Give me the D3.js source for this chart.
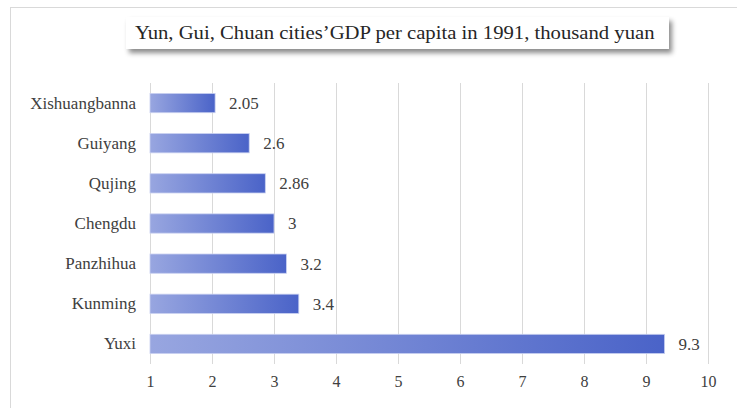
<!DOCTYPE html>
<html>
<head>
<meta charset="utf-8">
<script src="https://cdn.jsdelivr.net/npm/d3@7"></script>
</head>
<body style="margin:0; background:#fff">
<div id="chart"></div>
<script>
// data
const cities = ["Xishuangbanna", "Guiyang", "Qujing", "Chengdu", "Panzhihua", "Kunming", "Yuxi"];
const gdp = [2.05, 2.6, 2.86, 3, 3.2, 3.4, 9.3];
const ticks = [1, 2, 3, 4, 5, 6, 7, 8, 9, 10];
const title = "Yun, Gui, Chuan cities\u2019GDP per capita in 1991, thousand yuan";

const width = 737, height = 408;
const serif = "Liberation Serif";

const svg = d3.select("#chart")
  .append("svg")
    .attr("width", width)
    .attr("height", height)
    .style("display", "block")
    .attr("font-family", serif);

const defs = svg.append("defs");

// horizontal gradient, light on the left, dark on the right of each bar
const grad = defs.append("linearGradient")
  .attr("id", "barGrad")
  .attr("x1", "0%").attr("x2", "100%")
  .attr("y1", "0%").attr("y2", "0%");
grad.append("stop").attr("offset", "0%").attr("stop-color", "#98a6e0");
grad.append("stop").attr("offset", "100%").attr("stop-color", "#4a63c8");

const shadow = defs.append("filter")
  .attr("id", "shadow")
  .attr("x", "-10%").attr("y", "-30%")
  .attr("width", "120%").attr("height", "180%");
shadow.append("feDropShadow")
  .attr("dx", 3).attr("dy", 4)
  .attr("stdDeviation", 2.5)
  .attr("flood-color", "#000")
  .attr("flood-opacity", 0.45);

// chart frame
svg.append("rect")
  .attr("x", 10.5).attr("y", 7.5)
  .attr("width", width + 10).attr("height", height + 10)
  .attr("fill", "#fff")
  .attr("stroke", "#d9d9d9");

const x = d3.scaleLinear().domain([1, 10]).range([150, 708]);
const y = d3.scaleBand().domain(cities).range([83, 364])
  .paddingInner(0.52).paddingOuter(0.26);

// gridlines
svg.append("g")
  .selectAll("line")
  .data(ticks)
  .join("line")
    .attr("x1", d => x(d) + 0.5)
    .attr("x2", d => x(d) + 0.5)
    .attr("y1", 83)
    .attr("y2", 364)
    .attr("stroke", "#d9d9d9");

// x axis labels
const xAxis = svg.append("g")
  .attr("transform", "translate(0,364)")
  .call(d3.axisBottom(x).tickValues(ticks).tickSize(0).tickPadding(12).tickFormat(d3.format("d")));
xAxis.select(".domain").remove();
xAxis.attr("font-family", serif).attr("font-size", 16);
xAxis.selectAll("text")
  .attr("fill", "#404040");

// y axis labels
const yAxis = svg.append("g")
  .attr("transform", "translate(150,0)")
  .call(d3.axisLeft(y).tickSize(0).tickPadding(14));
yAxis.select(".domain").remove();
yAxis.attr("font-family", serif).attr("font-size", 17);
yAxis.selectAll("text")
  .attr("fill", "#404040");

// bars
svg.append("g")
  .selectAll("rect")
  .data(cities)
  .join("rect")
    .attr("x", x(1))
    .attr("y", d => y(d))
    .attr("width", (d, i) => x(gdp[i]) - x(1))
    .attr("height", y.bandwidth())
    .attr("fill", "url(#barGrad)")
    .attr("stroke", "#c9d0f0")
    .attr("stroke-width", 0.8);

// value labels
svg.append("g")
  .selectAll("text")
  .data(cities)
  .join("text")
    .attr("x", (d, i) => x(gdp[i]) + 14)
    .attr("y", d => y(d) + y.bandwidth() / 2)
    .attr("dy", "0.35em")
    .attr("font-family", serif)
    .attr("font-size", 17)
    .attr("fill", "#404040")
    .text((d, i) => gdp[i]);

// title box
svg.append("rect")
  .attr("x", 126).attr("y", 17)
  .attr("width", 543).attr("height", 32)
  .attr("fill", "#fff")
  .attr("filter", "url(#shadow)");

// title is stretched a bit horizontally like the original
svg.append("text")
  .attr("transform", "translate(135,39) scale(1.15,1)")
  .attr("font-family", serif)
  .attr("font-size", 18)
  .attr("fill", "#262626")
  .text(title);
</script>
</body>
</html>
